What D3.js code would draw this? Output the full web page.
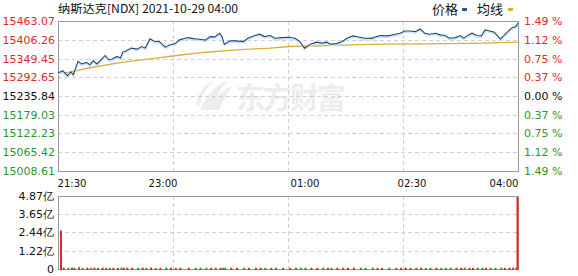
<!DOCTYPE html>
<html>
<head>
<meta charset="utf-8">
<script src="https://cdn.jsdelivr.net/npm/d3@7"></script>
<style>
body { margin: 0; background: #fff; }
svg { display: block; }
</style>
</head>
<body>
<svg id="chart"></svg>
<script>
// minute index since 21:30 (0..390) and price
const minutes = [0, 4, 8, 11, 13, 17, 20, 24, 27, 30, 33, 37, 40, 43, 46, 50, 53, 55, 58, 62,
  67, 71, 74, 78, 82, 86, 91, 95, 99, 103, 110, 116, 120, 125, 129, 133, 137, 139, 141, 146,
  151, 157, 161, 167, 171, 175, 180, 184, 190, 196, 201, 205, 209, 214, 219, 224, 228, 231, 236, 241,
  245, 250, 256, 260, 266, 270, 274, 280, 286, 290, 294, 298, 303, 307, 311, 315, 320, 324, 328, 332,
  337, 341, 344, 348, 351, 355, 359, 362, 366, 370, 375, 378, 382, 385, 388, 390];
const prices = [15305.7, 15312.6, 15297.5, 15308.7, 15300.5, 15340.6, 15332.8, 15337.6, 15330.6, 15342.7,
  15332.8, 15347.8, 15358.6, 15345.7, 15347.8, 15355.6, 15350.8, 15368.9, 15372.8, 15380.9,
  15377.9, 15385.7, 15380.9, 15408.9, 15400.8, 15400.8, 15383.9, 15390.9, 15393.9, 15405.9,
  15412.8, 15408.9, 15408.0, 15405.0, 15415.8, 15414.9, 15426.1, 15415.8, 15393.0, 15402.9,
  15402.9, 15400.5, 15411.0, 15418.9, 15423.1, 15415.8, 15418.9, 15411.0, 15412.8, 15414.0,
  15411.0, 15400.8, 15380.9, 15393.0, 15399.0, 15396.0, 15399.0, 15393.0, 15394.5, 15400.8,
  15411.0, 15418.0, 15414.0, 15411.0, 15410.5, 15415.8, 15418.9, 15418.0, 15423.1, 15426.1,
  15433.0, 15433.0, 15430.9, 15439.0, 15426.1, 15423.1, 15426.1, 15421.0, 15418.9, 15411.0,
  15412.8, 15418.9, 15411.0, 15421.0, 15426.1, 15418.9, 15418.0, 15436.0, 15433.0, 15429.1,
  15408.9, 15418.9, 15433.0, 15442.9, 15445.9, 15457.0];
const avgMinutes = [2, 6, 13, 26, 54, 83, 99, 123, 151, 180, 196, 221, 249, 277, 314, 359, 390];
const avgPrices = [15306.6, 15305.7, 15310.5, 15320.7, 15337.6, 15350.8, 15357.8, 15367.7, 15375.8,
  15380.9, 15385.8, 15387.9, 15390.9, 15393.0, 15393.5, 15396.0, 15399.0];
// volume (亿) at the same minutes as prices
const volumes = [2.57, 0.09, 0.08, 0.09, 0.08, 0.12, 0.08, 0.09, 0.08, 0.09,
  0.08, 0.09, 0.08, 0.09, 0.08, 0.08, 0.09, 0.08, 0.09, 0.08,
  0.08, 0.09, 0.08, 0.09, 0.08, 0.08, 0.09, 0.08, 0.08, 0.09,
  0.08, 0.08, 0.09, 0.08, 0.08, 0.09, 0.08, 0.08, 0.09, 0.08,
  0.08, 0.09, 0.08, 0.08, 0.09, 0.08, 0.08, 0.09, 0.08, 0.08,
  0.09, 0.08, 0.09, 0.08, 0.08, 0.09, 0.08, 0.08, 0.09, 0.08,
  0.08, 0.09, 0.08, 0.08, 0.09, 0.08, 0.08, 0.09, 0.08, 0.08,
  0.09, 0.08, 0.08, 0.09, 0.08, 0.08, 0.09, 0.08, 0.08, 0.09,
  0.08, 0.08, 0.09, 0.08, 0.08, 0.09, 0.08, 0.08, 0.09, 0.08,
  0.09, 0.08, 0.09, 0.09, 0.10, 4.80];

const preClose = 15235.84;
const priceTicks = [15463.07, 15406.26, 15349.45, 15292.65, 15235.84, 15179.03, 15122.23, 15065.42, 15008.61];
const pctTicks = ["1.49", "1.12", "0.75", "0.37", "0.00", "0.37", "0.75", "1.12", "1.49"];
const volTicks = [4.87, 3.65, 2.44, 1.22, 0];
const volTickLabels = ["4.87亿", "3.65亿", "2.44亿", "1.22亿", "0"];
const timeLabels = ["21:30", "23:00", "01:00", "02:30", "04:00"];
const title = "纳斯达克[NDX] 2021-10-29 04:00";

const W = 578, H = 276;
const pLeft = 58, pRight = 518;
const pTop = 21, pBottom = 171;
const vTop = 196, vBottom = 269;

const RED = "#e4262b", GREEN = "#2e942e", GRID = "#d0d0d0", BORDER = "#999";
const numFont = "'DejaVu Sans', Verdana, sans-serif";
const cjkFont = "'Noto Sans CJK SC', sans-serif";

const svg = d3.select("#chart").attr("width", W).attr("height", H);

const x = d3.scaleLinear().domain([0, 390]).range([pLeft, pRight]);
const y = d3.scaleLinear().domain([15008.61, 15463.07]).range([pBottom, pTop]);
const yv = d3.scaleLinear().domain([0, 4.87]).range([vBottom, vTop]);

// watermark
const wm = svg.append("g").attr("fill", "#ededed");
wm.append("path")
  .attr("d", "M200,110 C206,96 214,86 228,80 C220,90 214,100 210,110 Z M208,110 C214,98 222,90 232,86 C226,95 222,103 219,110 Z M196,104 C198,92 206,84 214,80 C206,88 202,96 200,106 Z");
wm.append("text")
  .attr("x", 236).attr("y", 109)
  .attr("font-family", cjkFont).attr("font-weight", "bold")
  .attr("font-size", 29).attr("textLength", 110)
  .text("东方财富");

// grid, main panel
const gridX = d3.range(1, 4).map(i => pLeft + (pRight - pLeft) * i / 4);
svg.append("g").selectAll("line")
  .data(priceTicks.slice(1, -1))
  .join("line")
  .attr("x1", pLeft).attr("x2", pRight)
  .attr("y1", d => Math.round(y(d)) + 0.5).attr("y2", d => Math.round(y(d)) + 0.5)
  .attr("stroke", GRID).attr("stroke-dasharray", "4,3");
svg.append("g").selectAll("line")
  .data(gridX)
  .join("line")
  .attr("x1", d => Math.round(d) + 0.5).attr("x2", d => Math.round(d) + 0.5)
  .attr("y1", pTop).attr("y2", pBottom)
  .attr("stroke", GRID).attr("stroke-dasharray", "4,3");

// grid, volume panel
svg.append("g").selectAll("line")
  .data(volTicks.slice(1, -1))
  .join("line")
  .attr("x1", pLeft).attr("x2", pRight)
  .attr("y1", d => Math.round(yv(d)) + 0.5).attr("y2", d => Math.round(yv(d)) + 0.5)
  .attr("stroke", GRID).attr("stroke-dasharray", "4,3");
svg.append("g").selectAll("line")
  .data(gridX)
  .join("line")
  .attr("x1", d => Math.round(d) + 0.5).attr("x2", d => Math.round(d) + 0.5)
  .attr("y1", vTop).attr("y2", vBottom)
  .attr("stroke", GRID).attr("stroke-dasharray", "4,3");

// panel borders
[[pTop, pBottom], [vTop, vBottom]].forEach(([t, b]) => {
  svg.append("rect")
    .attr("x", pLeft + 0.5).attr("y", t + 0.5)
    .attr("width", pRight - pLeft).attr("height", b - t)
    .attr("fill", "none").attr("stroke", BORDER);
});

// average line
const line = d3.line().x(d => x(d[0])).y(d => y(d[1]));
svg.append("path")
  .datum(avgMinutes.map((m, i) => [m, avgPrices[i]]))
  .attr("d", line)
  .attr("fill", "none").attr("stroke", "#dcae3a").attr("stroke-width", 1.3);

// price line with a light shadow under it
const pts = minutes.map((m, i) => [m, prices[i]]);
svg.append("path")
  .datum(pts)
  .attr("d", line)
  .attr("transform", "translate(0,1.5)")
  .attr("fill", "none").attr("stroke", "#cfe2f4").attr("stroke-width", 1.4);
svg.append("path")
  .datum(pts)
  .attr("d", line)
  .attr("fill", "none").attr("stroke", "#1d4a78").attr("stroke-width", 1.1);

// volume bars, drawn over the bottom border
svg.append("g").selectAll("rect")
  .data(volumes.map((v, i) => ({ m: minutes[i], v: v, up: i === 0 ? prices[0] >= preClose : prices[i] >= prices[i - 1] })))
  .join("rect")
  .attr("x", d => Math.max(pLeft + 2, Math.min(x(d.m), pRight - 1.5)))
  .attr("width", 2)
  .attr("y", d => yv(d.v))
  .attr("height", d => vBottom + 1 - yv(d.v))
  .attr("fill", d => d.up ? RED : GREEN);

// left price labels
svg.append("g").selectAll("text")
  .data(priceTicks)
  .join("text")
  .attr("x", 55).attr("y", d => y(d) + 4)
  .attr("text-anchor", "end")
  .attr("font-family", numFont).attr("font-size", 11)
  .attr("fill", d => d > preClose ? RED : d < preClose ? GREEN : "#111")
  .text(d => d.toFixed(2));

// right percent labels
svg.append("g").selectAll("text")
  .data(pctTicks)
  .join("text")
  .attr("x", 524).attr("y", (d, i) => y(priceTicks[i]) + 4)
  .attr("font-family", numFont).attr("font-size", 11)
  .attr("fill", (d, i) => priceTicks[i] > preClose ? RED : priceTicks[i] < preClose ? GREEN : "#111")
  .text(d => d + " %");

// volume labels
svg.append("g").selectAll("text")
  .data(volTicks)
  .join("text")
  .attr("x", 54).attr("y", d => yv(d) + 4)
  .attr("text-anchor", "end")
  .attr("font-family", numFont).attr("font-size", 11)
  .attr("fill", "#111")
  .text((d, i) => volTickLabels[i]);

// time labels
const timeCenters = [72, 163, 305, 412, 504];
svg.append("g").selectAll("text")
  .data(timeLabels)
  .join("text")
  .attr("x", (d, i) => timeCenters[i]).attr("y", 187)
  .attr("text-anchor", "middle")
  .attr("font-family", numFont).attr("font-size", 11)
  .attr("textLength", 29).attr("lengthAdjust", "spacingAndGlyphs")
  .attr("fill", "#111")
  .text(d => d);

// title
svg.append("text")
  .attr("x", 58).attr("y", 13)
  .attr("font-family", cjkFont).attr("font-size", 11.5)
  .attr("textLength", 180).attr("lengthAdjust", "spacingAndGlyphs")
  .attr("fill", "#111")
  .text(title);

// legend
const legend = svg.append("g").attr("font-family", cjkFont).attr("font-size", 13).attr("fill", "#111");
legend.append("text").attr("x", 432).attr("y", 14).text("价格");
legend.append("rect").attr("x", 462).attr("y", 8).attr("width", 5).attr("height", 3).attr("fill", "#1f5a96");
legend.append("text").attr("x", 477).attr("y", 14).text("均线");
legend.append("rect").attr("x", 508).attr("y", 8).attr("width", 5).attr("height", 3).attr("fill", "#e0b030");
</script>
</body>
</html>
